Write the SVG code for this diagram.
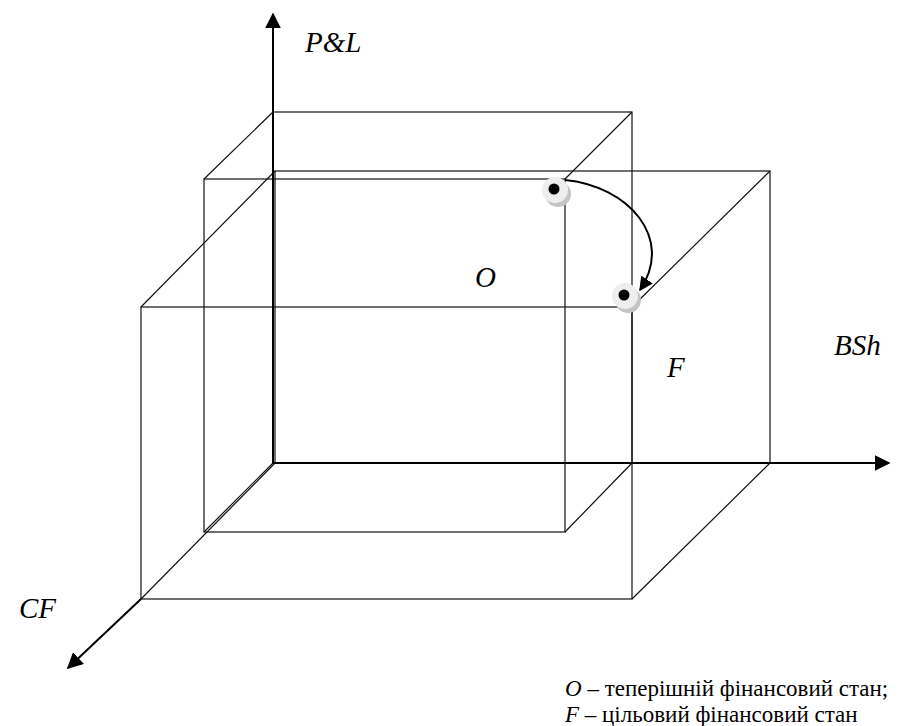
<svg xmlns="http://www.w3.org/2000/svg" width="897" height="726" viewBox="0 0 897 726">
<defs>
<style>
.edge{fill:none;stroke:#111;stroke-width:1.2}
.axis{fill:none;stroke:#000;stroke-width:2}
.lbl{font-family:"Liberation Serif","Times New Roman",serif;font-style:italic;font-size:29px;fill:#000}
.leg{font-family:"Liberation Serif","Times New Roman",serif;font-size:23px;fill:#000}
</style>
<marker id="ax" viewBox="0 0 10 10" refX="9" refY="5" markerWidth="8" markerHeight="8" orient="auto">
<path d="M0,0 L10,5 L0,10 z" fill="#000"/>
</marker>
<marker id="ca" viewBox="0 0 10 10" refX="9" refY="5" markerWidth="14" markerHeight="14" markerUnits="userSpaceOnUse" orient="auto">
<path d="M0,0 L10,5 L0,10 z" fill="#000"/>
</marker>
</defs>
<rect width="897" height="726" fill="#fff"/>
<g id="inner-box">
<rect class="edge" x="204" y="179" width="361" height="353"/>
<rect class="edge" x="273" y="112" width="359" height="351"/>
<path class="edge" d="M204,179 L273,112 M565,179 L632,112 M565,532 L632,463 M204,532 L273,463"/>
</g>
<g id="outer-box">
<rect class="edge" x="141" y="307" width="491" height="292"/>
<rect class="edge" x="275" y="171" width="495" height="292"/>
<path class="edge" d="M141,307 L275,171 M632,307 L770,171 M632,599 L770,463 M141,599 L275,463"/>
</g>
<g id="axes">
<line class="axis" x1="273" y1="463" x2="273" y2="14" marker-end="url(#ax)"/>
<line class="axis" x1="273" y1="463" x2="889" y2="463" marker-end="url(#ax)"/>
<line class="axis" x1="141" y1="599" x2="68" y2="668" marker-end="url(#ax)"/>
</g>
<g id="connectors">
<path d="M565,180 C628,186 675,238 640,290" fill="none" stroke="#000" stroke-width="2" marker-end="url(#ca)"/>
</g>
<g id="point-O">
<circle cx="558" cy="194" r="13" fill="#c4c4c4"/>
<circle cx="555" cy="190" r="13" fill="#eeeeee"/>
<circle cx="554" cy="189" r="5.5" fill="#000"/>
</g>
<g id="point-F">
<circle cx="628" cy="300" r="13" fill="#c4c4c4"/>
<circle cx="625" cy="296" r="13" fill="#eeeeee"/>
<circle cx="624" cy="295" r="5.5" fill="#000"/>
</g>
<g id="labels">
<text class="lbl" x="305" y="52">P&amp;L</text>
<text class="lbl" x="475" y="287">O</text>
<text class="lbl" x="667" y="377">F</text>
<text class="lbl" x="834" y="355">BSh</text>
<text class="lbl" x="19" y="618">CF</text>
</g>
<g id="legend">
<text class="leg" x="565" y="696"><tspan font-style="italic">O</tspan> – теперішній фінансовий стан;</text>
<text class="leg" x="565" y="722"><tspan font-style="italic">F</tspan> – цільовий фінансовий стан</text>
</g>
</svg>
